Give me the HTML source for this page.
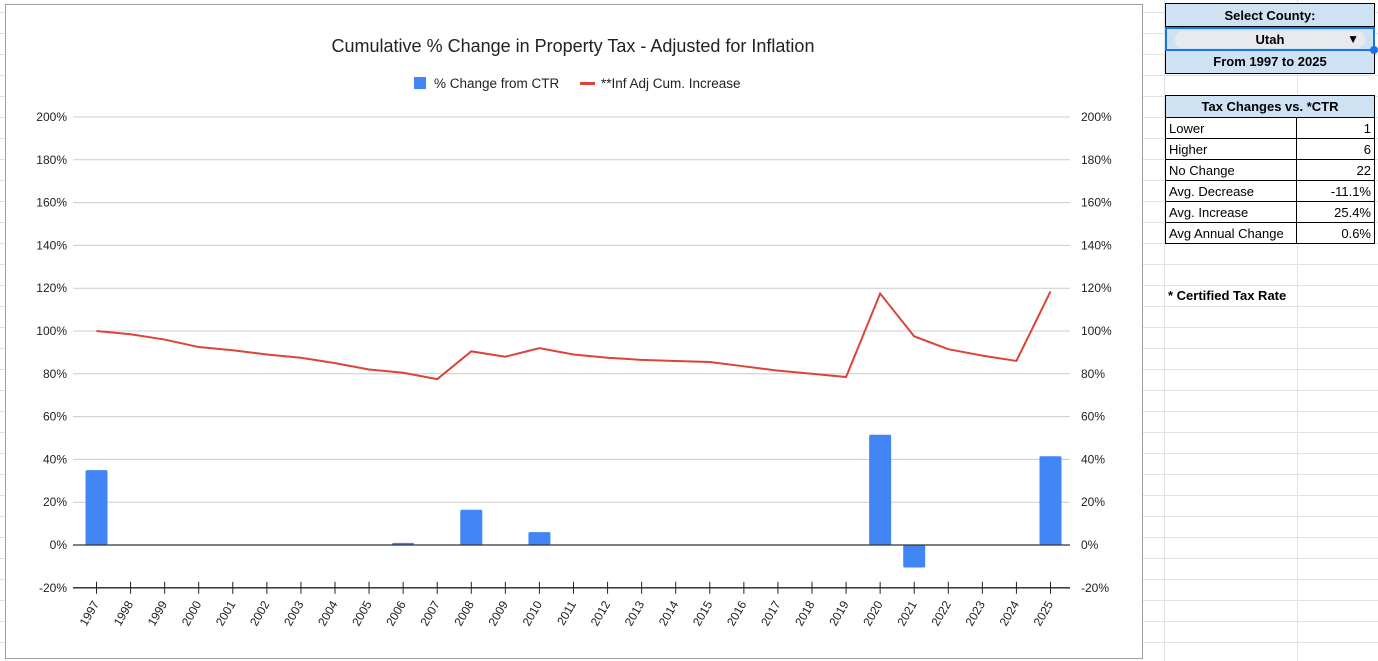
<!DOCTYPE html>
<html><head><meta charset="utf-8"><style>
body{margin:0;width:1378px;height:661px;overflow:hidden;background:#fff;font-family:"Liberation Sans",Arial,sans-serif;position:relative}
.grid{position:absolute;left:0;top:0;width:1378px;height:661px;background-image:linear-gradient(#e2e2e2 1px,transparent 1px);background-size:100% 21px;background-position:0 12px}
.vl{position:absolute;top:0;height:661px;width:1px;background:#e2e2e2}
#chart{position:absolute;left:5px;top:4px;width:1138px;height:655px;background:#fff;border:1px solid #9e9e9e;box-sizing:border-box}
.box{position:absolute;left:1165px;width:210px;box-sizing:border-box;font-size:13px}
.hdr{background:#cfe2f3;border:1px solid #000;text-align:center;font-weight:bold;font-size:13px;box-sizing:border-box}
table{border-collapse:collapse;width:210px;font-size:13px;margin-top:-1px}
td{border:1px solid #000;height:21px;padding:0 3px;background:#fff;box-sizing:border-box}
</style></head><body>
<div class="grid"></div>
<div class="vl" style="left:1164px"></div><div class="vl" style="left:1297px"></div>
<div id="chart">
<svg id="svg" width="1138" height="655" viewBox="5 4 1138 655" style="position:absolute;left:-1px;top:-1px">
<text x="573" y="52" text-anchor="middle" font-size="18" fill="#222">Cumulative % Change in Property Tax - Adjusted for Inflation</text>
<g>
<rect x="414" y="77" width="12" height="12" fill="#4285f4"/>
<text x="434" y="88" font-size="13.5" fill="#222">% Change from CTR</text>
<rect x="580" y="82" width="15" height="3" fill="#db4437"/>
<text x="601" y="88" font-size="13.5" fill="#222">**Inf Adj Cum. Increase</text>
</g>
<g id="g"></g>
</svg>
</div>
<div class="box" style="top:3px">
<div class="hdr" style="height:24px;line-height:23px">Select County:</div>
<div style="height:24px;background:#cfe2f3;border:2px solid #1a73e8;box-sizing:border-box;position:relative">
<div style="position:absolute;left:8px;right:8px;top:2px;height:17px;background:#e8eaed;border-radius:8px;text-align:center;font-weight:bold;line-height:17px">Utah</div>
<div style="position:absolute;right:14px;top:3px;font-size:12px">▼</div>
<div style="position:absolute;right:-5px;bottom:-5px;width:8px;height:8px;border-radius:50%;background:#1a73e8"></div></div>
<div class="hdr" style="height:23px;line-height:22px;border-top:0">From 1997 to 2025</div>
</div>
<div class="box" style="top:95px">
<div class="hdr" style="height:23px;line-height:21px">Tax Changes vs. *CTR</div>
<table>
<tr><td>Lower</td><td style="text-align:right;width:78px">1</td></tr>
<tr><td>Higher</td><td style="text-align:right">6</td></tr>
<tr><td>No Change</td><td style="text-align:right">22</td></tr>
<tr><td>Avg. Decrease</td><td style="text-align:right">-11.1%</td></tr>
<tr><td>Avg. Increase</td><td style="text-align:right">25.4%</td></tr>
<tr><td>Avg Annual Change</td><td style="text-align:right">0.6%</td></tr>
</table></div>
<div style="position:absolute;left:1168px;top:288px;font-size:13px;font-weight:bold;background:#fff">* Certified Tax Rate</div>
<script>
const years=[1997,1998,1999,2000,2001,2002,2003,2004,2005,2006,2007,2008,2009,2010,2011,2012,2013,2014,2015,2016,2017,2018,2019,2020,2021,2022,2023,2024,2025];
const barValues=[35,0,0,0,0,0,0,0,0,1,0,16.5,0,6,0,0,0,0,0,0,0,0,0,51.5,-10.5,0,0,0,41.5];
const lineValues=[100,98.5,96,92.5,91,89,87.5,85,82,80.5,77.5,90.5,88,92,89,87.5,86.5,86,85.5,83.5,81.5,80,78.5,117.5,97.5,91.5,88.5,86,118.5];
const yTicks=[-20,0,20,40,60,80,100,120,140,160,180,200];
const NS='http://www.w3.org/2000/svg';
const g=document.getElementById('g');
const X0=73,X1=1070,Y0=545,PX=2.14;
const xs=i=>96.5+i*(1050.5-96.5)/(years.length-1);
const ys=v=>Y0-v*PX;
function mk(t,a){const e=document.createElementNS(NS,t);for(const k in a)e.setAttribute(k,a[k]);g.appendChild(e);return e;}
yTicks.forEach(v=>{
 if(v!==0&&v!==-20){const l=mk('line',{x1:X0,x2:X1,y1:ys(v),y2:ys(v),stroke:'#ccc'});
 
 }
 const a=mk('text',{x:67,y:ys(v)+4,'text-anchor':'end','font-size':12,fill:'#222'});a.textContent=v+'%';
 
 
 const b=mk('text',{x:1081,y:ys(v)+4,'font-size':12,fill:'#222'});b.textContent=v+'%';
 
 
});
barValues.forEach((v,i)=>{if(!v)return;
 const y=Math.min(ys(v),Y0),h=Math.abs(ys(v)-Y0);
 const r=mk('rect',{x:xs(i)-11,y:y,width:22,height:h,fill:'#4285f4',rx:1.5});
 
 
});
const z=mk('line',{x1:X0,x2:X1,y1:Y0,y2:Y0,stroke:'#333','stroke-width':1.3});


const ax=mk('line',{x1:X0,x2:X1,y1:ys(-20),y2:ys(-20),stroke:'#222','stroke-width':1.3});


years.forEach((yr,i)=>{
 const t=mk('line',{x1:xs(i),x2:xs(i),y1:ys(-20)-6,y2:ys(-20)+6,stroke:'#222'});
 
 
 const tx=mk('text',{x:0,y:0,'font-size':12,fill:'#222','text-anchor':'end',transform:`translate(${xs(i)+3},${ys(-20)+16}) rotate(-60)`});
 tx.textContent=yr;
 
 
});
const p=mk('polyline',{points:lineValues.map((v,i)=>xs(i)+','+ys(v)).join(' '),fill:'none',stroke:'#db4437','stroke-width':2});


</script>
</body></html>
